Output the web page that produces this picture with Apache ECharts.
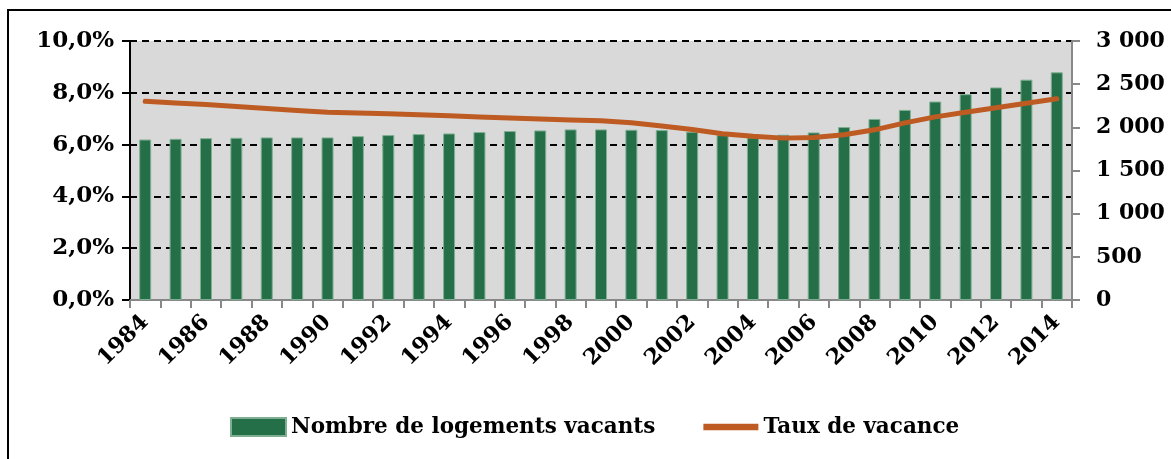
<!DOCTYPE html>
<html>
<head>
<meta charset="utf-8">
<script src="https://cdn.jsdelivr.net/npm/echarts@6/dist/echarts.min.js"></script>
<style>
html,body{margin:0;padding:0;background:#fff;}
#c{width:1171px;height:459px;}
</style>
</head>
<body>
<div id="c"></div>
<script>
const years = ['1984','1985','1986','1987','1988','1989','1990','1991','1992','1993','1994','1995','1996','1997','1998','1999','2000','2001','2002','2003','2004','2005','2006','2007','2008','2009','2010','2011','2012','2013','2014'];
const vacantDwellings = [1859,1867,1875,1879,1883,1883,1883,1898,1910,1922,1929,1945,1957,1964,1976,1976,1972,1968,1949,1910,1883,1914,1941,2003,2097,2202,2299,2384,2462,2552,2637];
const vacancyRate = [7.67,7.61,7.55,7.47,7.39,7.32,7.25,7.22,7.19,7.15,7.11,7.07,7.03,6.99,6.95,6.92,6.84,6.72,6.58,6.42,6.32,6.25,6.27,6.38,6.57,6.84,7.07,7.25,7.42,7.60,7.77];
const seriesNames = ['Nombre de logements vacants','Taux de vacance'];

const FONT = 'DejaVu Serif';
const chart = echarts.init(document.getElementById('c'), null, {renderer:'canvas'});
chart.setOption({
  animation:false,
  backgroundColor:'#fff',
  textStyle:{fontFamily:FONT},
  graphic:[
    {type:'polyline', shape:{points:[[8,470],[8,10],[1180,10]]}, style:{stroke:'#000',lineWidth:2,fill:null}}
  ],
  legend:{
    left:225, top:411,
    itemWidth:55, itemHeight:18, itemGap:48,
    textStyle:{fontFamily:FONT,fontWeight:'bold',fontSize:21.5,color:'#000'},
    data:[
      {name:seriesNames[0], icon:'rect'},
      {name:seriesNames[1], icon:'path://M0,0 L60,0 L60,7 L0,7 Z'}
    ]
  },
  grid:{left:130,right:99,top:41,bottom:159,show:true,backgroundColor:'#D9D9D9',borderWidth:0,containLabel:false},
  xAxis:{
    type:'category', data:years, boundaryGap:true,
    axisLine:{lineStyle:{color:'#888',width:2}},
    axisTick:{show:true,interval:0,length:8,lineStyle:{color:'#888',width:2}},
    axisLabel:{interval:1,rotate:45,fontFamily:FONT,fontWeight:'bold',fontSize:22,color:'#000',margin:19}
  },
  yAxis:[
    {type:'value',min:0,max:10,interval:2,position:'left',
     axisLine:{show:true,lineStyle:{color:'#000',width:2}},
     axisTick:{show:true,length:8,lineStyle:{color:'#000',width:2}},
     axisLabel:{fontFamily:FONT,fontWeight:'bold',fontSize:23,color:'#000',margin:16,
       formatter:v=>v.toFixed(1).replace('.',',')+'%'},
     splitLine:{show:true,lineStyle:{color:'#000',width:2,type:[7,5]}}
    },
    {type:'value',min:0,max:3000,interval:500,position:'right',
     axisLine:{show:true,lineStyle:{color:'#888',width:2}},
     axisTick:{show:true,length:8,lineStyle:{color:'#888',width:2}},
     axisLabel:{fontFamily:FONT,fontWeight:'bold',fontSize:22,color:'#000',margin:24,
       formatter:v=>String(v).replace(/\B(?=(\d{3})+(?!\d))/g,' ')},
     splitLine:{show:false}
    }
  ],
  series:[
    {name:seriesNames[0],type:'bar',yAxisIndex:1,data:vacantDwellings,barWidth:12,
     itemStyle:{color:'#246E48',borderColor:'#7FAF92',borderWidth:1}},
    {name:seriesNames[1],type:'line',yAxisIndex:0,data:vacancyRate,
     symbol:'none',showSymbol:false,smooth:false,
     lineStyle:{color:'#BE5B22',width:5,cap:'round',join:'round'},
     itemStyle:{color:'#BE5B22'}}
  ]
});
</script>
</body>
</html>
